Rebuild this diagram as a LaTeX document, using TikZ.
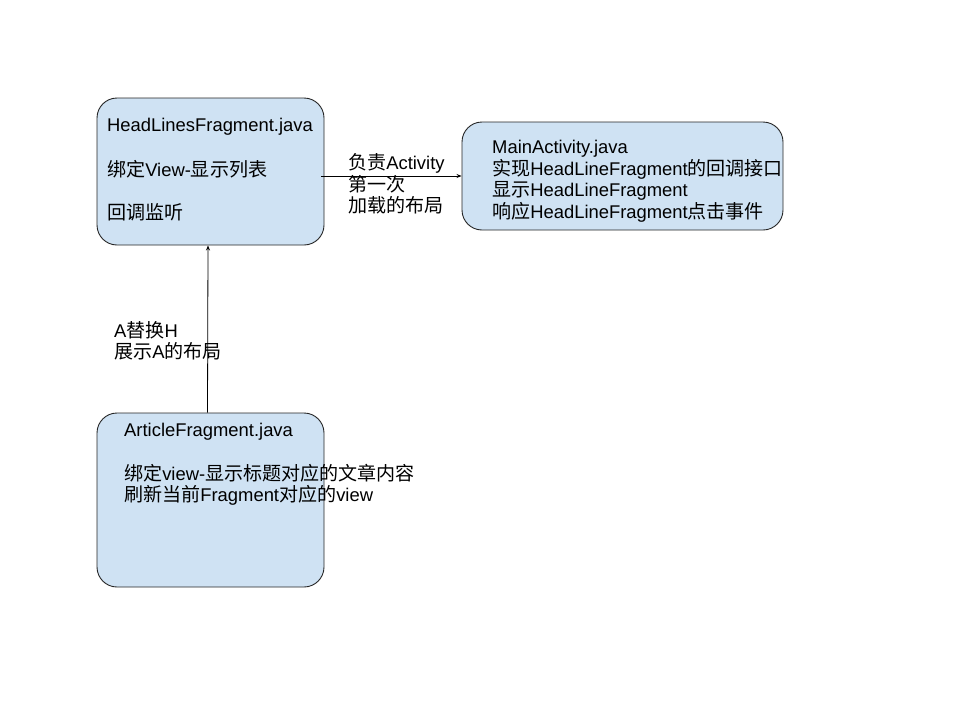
\documentclass[tikz,border=0pt]{standalone}
\usepackage{fontspec}
\setmainfont{Liberation Sans}
\newfontfamily\zh[Scale=1.035]{Noto Sans CJK SC}
\usetikzlibrary{arrows.meta}
\definecolor{boxfill}{HTML}{CFE2F3}
\tikzset{
  box/.style={draw=black!85, line width=0.9pt, fill=boxfill, rounded corners=20pt, inner sep=0pt},
  txt/.style={anchor=base west, inner sep=0pt, font=\fontsize{18.4}{21.6}\selectfont},
  arr/.style={draw=black, line width=0.8pt, -{Stealth[length=5pt,width=4pt]}}
}
\begin{document}
\begin{tikzpicture}[x=1pt,y=-1pt]
\useasboundingbox (0,0) rectangle (960,720);
\node[box, minimum width=227pt, minimum height=147pt] (b1) at (210.5,171.5) {};
\node[box, minimum width=321pt, minimum height=108pt] (b2) at (622.5,176) {};
\node[box, minimum width=227pt, minimum height=174pt] (b3) at (210.5,500) {};
% box 1 text
\node[txt] (t11) at (107,131.5) {HeadLinesFragment.java};
\node[txt] (t12) at (107,176) {{\zh 绑定}View-{\zh 显示列表}};
\node[txt] (t13) at (107,219) {{\zh 回调监听}};
% box 2 text
\node[txt] (t21) at (492,153.5) {MainActivity.java};
\node[txt] (t22) at (492,175.2) {{\zh 实现}HeadLineFragment{\zh 的回调接口}};
\node[txt] (t23) at (492,196.8) {{\zh 显示}HeadLineFragment};
\node[txt] (t24) at (492,218.4) {{\zh 响应}HeadLineFragment{\zh 点击事件}};
% box 3 text
\node[txt] (t31) at (124,436) {ArticleFragment.java};
\node[txt] (t32) at (124,480) {{\zh 绑定}view-{\zh 显示标题对应的文章内容}};
\node[txt] (t33) at (124,501.6) {{\zh 刷新当前}Fragment{\zh 对应的}view};
% connector labels
\node[txt] (l11) at (348,169.5) {{\zh 负责}Activity};
\node[txt] (l12) at (348,191.1) {{\zh 第一次}};
\node[txt] (l13) at (348,212.7) {{\zh 加载的布局}};
\node[txt] (l21) at (114,337) {A{\zh 替换}H};
\node[txt] (l22) at (114,358.6) {{\zh 展示}A{\zh 的布局}};
% connectors
\draw[arr] ([xshift=-3pt]b1.east |- b2.west) -- (b2.west);
\draw[arr] ([xshift=-3pt]b3.north) -- ([xshift=-2.5pt]b1.south);
\end{tikzpicture}
\end{document}
